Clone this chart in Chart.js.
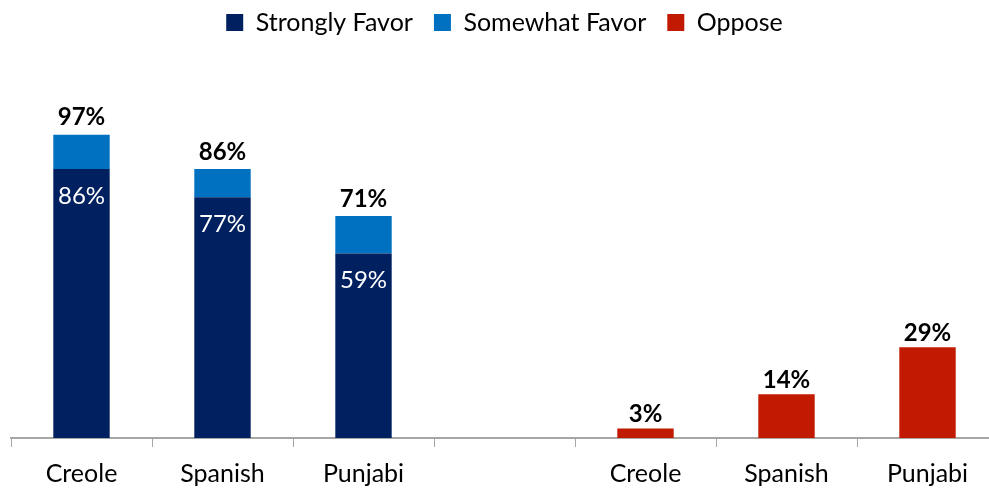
<!DOCTYPE html>
<html>
<head>
<meta charset="utf-8">
<script src="https://cdn.jsdelivr.net/npm/chart.js@4/dist/chart.umd.min.js"></script>
<style>
  html, body { margin: 0; padding: 0; background: #fff; overflow: hidden; }
  #wrap { width: 1010px; height: 501px; }
</style>
</head>
<body>
<div id="wrap"><canvas id="myChart"></canvas></div>
<script>
var categories = ['Creole', 'Spanish', 'Punjabi', '', 'Creole', 'Spanish', 'Punjabi'];
var stronglyFavor = [86, 77, 59, null, null, null, null];
var somewhatFavor = [11, 9, 12, null, null, null, null];
var favorTotals = [97, 86, 71, null, null, null, null];
var oppose = [null, null, null, null, 3, 14, 29];

var FONT = 'Lato, "Open Sans", sans-serif';

// draws the % labels: white inside the dark bars, bold black on top of each stack
var valueLabels = {
    id: 'valueLabels',
    afterDatasetsDraw: function (chart) {
        var ctx = chart.ctx;
        ctx.save();
        ctx.textAlign = 'center';
        ctx.textBaseline = 'middle';

        var meta0 = chart.getDatasetMeta(0);
        var meta1 = chart.getDatasetMeta(1);
        var meta2 = chart.getDatasetMeta(2);

        ctx.font = '24px ' + FONT;
        ctx.fillStyle = '#ffffff';
        meta0.data.forEach(function (bar, i) {
            if (stronglyFavor[i] == null) return;
            ctx.fillText(stronglyFavor[i] + '%', bar.x, bar.y + 27);
        });

        ctx.font = 'bold 24px ' + FONT;
        ctx.fillStyle = '#000000';
        meta1.data.forEach(function (bar, i) {
            if (favorTotals[i] == null) return;
            ctx.fillText(favorTotals[i] + '%', bar.x, bar.y - 17);
        });
        meta2.data.forEach(function (bar, i) {
            if (oppose[i] == null) return;
            ctx.fillText(oppose[i] + '%', bar.x, bar.y - 14);
        });
        ctx.restore();
    }
};

var ctx = document.getElementById('myChart').getContext('2d');
var myChart = new Chart(ctx, {
    type: 'bar',
    data: {
        labels: categories,
        datasets: [{
            label: 'Strongly Favor',
            data: stronglyFavor,
            backgroundColor: '#002060',
            barPercentage: 0.8,
            categoryPercentage: 0.5
        }, {
            label: 'Somewhat Favor',
            data: somewhatFavor,
            backgroundColor: '#0070C0',
            barPercentage: 0.8,
            categoryPercentage: 0.5
        }, {
            label: 'Oppose',
            data: oppose,
            backgroundColor: '#C21A00',
            barPercentage: 0.8,
            categoryPercentage: 0.5
        }]
    },
    options: {
        responsive: true,
        maintainAspectRatio: false,
        animation: false,
        layout: {
            padding: { left: 11, right: 12, top: -11, bottom: 0 }
        },
        plugins: {
            legend: {
                position: 'top',
                labels: {
                    font: { family: FONT, size: 25 },
                    color: '#000',
                    boxWidth: 17,
                    boxHeight: 17,
                    padding: 21
                }
            },
            tooltip: { enabled: false }
        },
        scales: {
            x: {
                stacked: true,
                grid: {
                    offset: true,
                    drawOnChartArea: false,
                    tickLength: 9,
                    color: '#a6a6a6'
                },
                border: { color: '#a6a6a6', width: 2 },
                ticks: {
                    font: { family: FONT, size: 25 },
                    color: '#000',
                    padding: 12
                }
            },
            y: {
                stacked: true,
                display: false,
                beginAtZero: true,
                max: 125.7
            }
        }
    },
    plugins: [valueLabels]
});
</script>
</body>
</html>
